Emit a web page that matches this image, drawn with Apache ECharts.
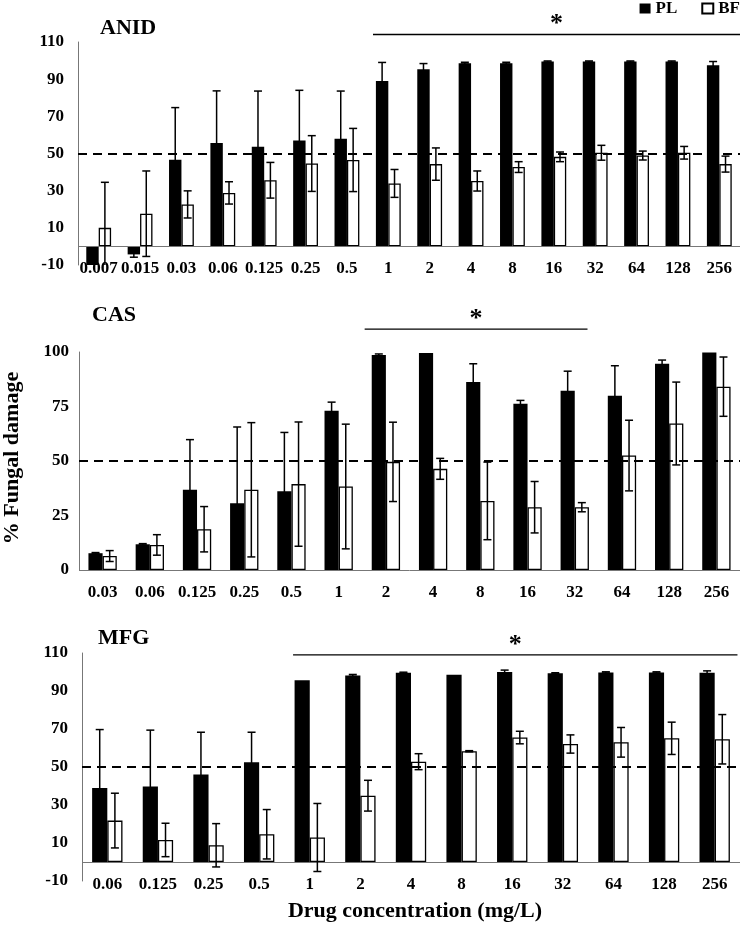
<!DOCTYPE html>
<html>
<head>
<meta charset="utf-8">
<script src="https://cdn.jsdelivr.net/npm/echarts@6/dist/echarts.min.js"></script>
<style>html,body{margin:0;padding:0;background:#fff;}#c{width:742px;height:928px;}</style>
</head>
<body>
<div id="c"></div>
<script>
// ---------- DATA ----------
const anidCats = ['0.007','0.015','0.03','0.06','0.125','0.25','0.5','1','2','4','8','16','32','64','128','256'];
const anidPL    = [-10, -4.3, 46.7, 55.7, 53.6, 57.0, 57.9, 89.0, 95.4, 98.6, 98.6, 99.5, 99.5, 99.5, 99.5, 97.5];
const anidPLerr = [0, 1.5, 28, 28, 30, 27, 25.7, 10, 3, 0.5, 0.5, 0.3, 0.3, 0.3, 0.3, 2];
const anidBF    = [10, 17.6, 22.6, 28.8, 35.6, 44.6, 46.5, 33.9, 44.3, 35.2, 42.7, 48.2, 50.4, 48.9, 50.4, 44.3];
const anidBFerr = [24.5, 23, 7.3, 6, 9.6, 15, 17, 7.5, 8.7, 5.4, 2.9, 2.6, 4, 2.4, 3.4, 4.3];

const casCats = ['0.03','0.06','0.125','0.25','0.5','1','2','4','8','16','32','64','128','256'];
const casPL    = [7.7, 11.8, 36.8, 30.6, 36.1, 73.0, 98.6, 99.5, 86.2, 76.3, 82.2, 79.9, 94.6, 99.8];
const casPLerr = [0.3, 0.3, 23, 35, 27, 4, 0.5, 0, 8.4, 1.5, 9, 13.8, 1.7, 0];
const casBF    = [6.4, 11.5, 18.7, 36.8, 39.4, 38.3, 49.6, 46.4, 31.7, 28.8, 28.8, 52.5, 67.2, 84.1];
const casBFerr = [2.5, 4.7, 10.4, 30.8, 28.5, 28.6, 18.2, 4.8, 17.8, 11.8, 2.1, 16.2, 19, 13.6];

const mfgCats = ['0.06','0.125','0.25','0.5','1','2','4','8','16','32','64','128','256'];
const mfgPL    = [38.9, 39.8, 46.1, 52.5, 95.6, 98.2, 99.6, 98.6, 100, 99.3, 99.8, 99.8, 99.6];
const mfgPLerr = [30.8, 29.6, 22.2, 15.8, 0, 0.5, 0.3, 0, 1, 0.3, 0.3, 0.3, 1];
const mfgBF    = [21.8, 11.6, 8.8, 14.6, 12.9, 34.9, 52.8, 58.3, 65.5, 62.1, 63.0, 65.1, 64.6];
const mfgBFerr = [14.4, 8.8, 11.4, 13, 17.9, 8.1, 4.2, 0.3, 3.3, 4.8, 7.8, 8.5, 13];

const panelTitles = ['ANID', 'CAS', 'MFG'];
const sigRanges = [[7, 15], [6, 10], [4, 12]];   // category index ranges marked with *
const refLevel = 50;

// ---------- CHART ----------
const FONT = "'Liberation Serif','Times New Roman',serif";
const panels = [
  {cats: anidCats, pl: anidPL, plErr: anidPLerr, bf: anidBF, bfErr: anidBFerr, min: -10, max: 110, interval: 20,
   grid: {left: 78, right: 2, top: 42, height: 223}, labelMargin: -5, yLabelMargin: 14},
  {cats: casCats, pl: casPL, plErr: casPLerr, bf: casBF, bfErr: casBFerr, min: 0, max: 100, interval: 25,
   grid: {left: 79, right: 2, top: 352, height: 218}, labelMargin: 14, yLabelMargin: 10},
  {cats: mfgCats, pl: mfgPL, plErr: mfgPLerr, bf: mfgBF, bfErr: mfgBFerr, min: -10, max: 110, interval: 20,
   grid: {left: 82, right: 2, top: 653, height: 228}, labelMargin: -5, yLabelMargin: 14}
];

function errRender(side, minV, maxV) {
  return function (params, api) {
    const idx = api.value(0), v = api.value(1), e = api.value(2);
    if (!(e > 0)) return null;
    const band = api.size([1, 0])[0];
    const x = api.coord([idx, v])[0] + side * band * 0.15;
    const hi = Math.min(v + e, maxV), lo = Math.max(v - e, minV);
    const yTop = api.coord([idx, hi])[1];
    const yBot = api.coord([idx, lo])[1];
    const cap = 4;
    const st = {stroke: '#000', lineWidth: 1.5};
    const ch = [{type: 'line', shape: {x1: x, y1: yTop, x2: x, y2: yBot}, style: st}];
    if (v + e <= maxV) ch.push({type: 'line', shape: {x1: x - cap, y1: yTop, x2: x + cap, y2: yTop}, style: st});
    if (v - e >= minV) ch.push({type: 'line', shape: {x1: x - cap, y1: yBot, x2: x + cap, y2: yBot}, style: st});
    return {type: 'group', children: ch};
  };
}

const grids = [], xAxes = [], yAxes = [], series = [];
panels.forEach((p, i) => {
  grids.push(p.grid);
  xAxes.push({
    type: 'category', gridIndex: i, data: p.cats,
    axisLine: {show: false}, axisTick: {show: false},
    axisLabel: {interval: 0, margin: p.labelMargin, color: '#000', fontFamily: FONT, fontWeight: 'bold', fontSize: 17, hideOverlap: false}
  });
  yAxes.push({
    type: 'value', gridIndex: i, min: p.min, max: p.max, interval: p.interval,
    splitLine: {show: false},
    axisLine: {show: true, lineStyle: {color: '#777', width: 1}},
    axisTick: {show: false},
    axisLabel: {margin: p.yLabelMargin, color: '#000', fontFamily: FONT, fontWeight: 'bold', fontSize: 17}
  });
  series.push({
    name: 'PL', type: 'bar', xAxisIndex: i, yAxisIndex: i, data: p.pl,
    barCategoryGap: '40%', barGap: '0%',
    itemStyle: {color: '#000'}, z: 2
  });
  series.push({
    name: 'BF', type: 'bar', xAxisIndex: i, yAxisIndex: i, data: p.bf,
    barCategoryGap: '40%', barGap: '0%',
    itemStyle: {color: '#fff', borderColor: '#000', borderWidth: 1.3}, z: 2
  });
  series.push({
    name: 'PL err', type: 'custom', xAxisIndex: i, yAxisIndex: i, z: 5,
    renderItem: errRender(-1, p.min, p.max),
    data: p.pl.map((v, k) => [k, v, p.plErr[k]])
  });
  series.push({
    name: 'BF err', type: 'custom', xAxisIndex: i, yAxisIndex: i, z: 5,
    renderItem: errRender(1, p.min, p.max),
    data: p.bf.map((v, k) => [k, v, p.bfErr[k]]),
    markLine: {
      silent: true, symbol: 'none', label: {show: false}, animation: false,
      data: [
        {yAxis: 0, lineStyle: {color: '#777', width: 1, type: 'solid'}},
        {yAxis: refLevel, lineStyle: {color: '#000', width: 2, type: [9, 6]}}
      ]
    }
  });
});

const chart = echarts.init(document.getElementById('c'), null, {renderer: 'canvas'});
chart.setOption({
  animation: false,
  backgroundColor: '#fff',
  grid: grids, xAxis: xAxes, yAxis: yAxes, series: series,
  legend: {
    data: ['PL', 'BF'], right: 2, top: 0, padding: 0,
    icon: 'rect', itemWidth: 11, itemHeight: 10, itemGap: 24,
    textStyle: {fontFamily: FONT, fontWeight: 'bold', fontSize: 17, color: '#000'}
  }
});

// annotations positioned through the chart's own scales
const graphics = [];
const titlePos = [[100, 17], [92, 304], [98, 627]];
const sigValue = [114, 110.5, 109];
const sigOff = [[-0.37, 0.5], [-0.45, 0.27], [-0.33, 0.45]];
panels.forEach((p, i) => {
  graphics.push({type: 'text', left: titlePos[i][0], top: titlePos[i][1],
    style: {text: panelTitles[i], font: 'bold 22px ' + FONT, fill: '#000'}});
  const c0 = chart.convertToPixel({gridIndex: i}, [0, 0]);
  const c1 = chart.convertToPixel({gridIndex: i}, [1, 0]);
  const band = c1[0] - c0[0];
  const a = chart.convertToPixel({gridIndex: i}, [sigRanges[i][0], sigValue[i]]);
  const b = chart.convertToPixel({gridIndex: i}, [sigRanges[i][1], sigValue[i]]);
  const x1 = a[0] + sigOff[i][0] * band, x2 = b[0] + sigOff[i][1] * band, y = a[1];
  graphics.push({type: 'line', shape: {x1: x1, y1: y, x2: x2, y2: y}, style: {stroke: '#000', lineWidth: 1.4}});
  graphics.push({type: 'text', x: (x1 + x2) / 2, y: y + 3,
    style: {text: '*', font: 'bold 26px ' + FONT, fill: '#000', textAlign: 'center', textVerticalAlign: 'bottom'}});
});
graphics.push({type: 'text', x: 12, y: 458, rotation: Math.PI / 2,
  style: {text: '% Fungal damage', font: 'bold 22px ' + FONT, fill: '#000', textAlign: 'center', textVerticalAlign: 'middle'}});
graphics.push({type: 'text', x: 415, y: 911,
  style: {text: 'Drug concentration (mg/L)', font: 'bold 22px ' + FONT, fill: '#000', textAlign: 'center', textVerticalAlign: 'middle'}});
chart.setOption({graphic: graphics});
</script>
</body>
</html>
